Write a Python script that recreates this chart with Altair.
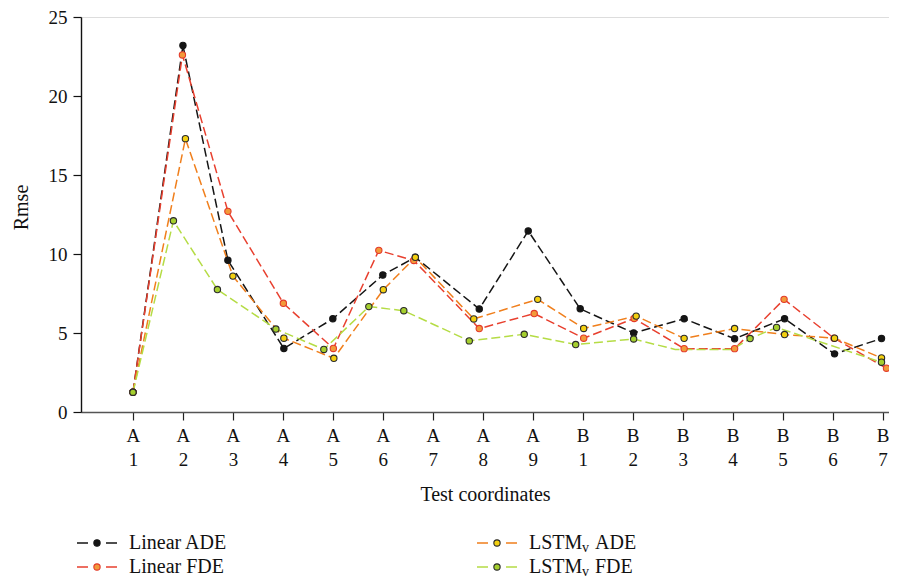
import altair as alt
import pandas as pd

FONT = "Liberation Serif"

series = ["Linear ADE", "Linear FDE", "LSTMv ADE", "LSTMv FDE"]
line_colors = ["#151515", "#e8402f", "#f07f1c", "#b5dc45"]
marker_fill = ["#151515", "#f29a3a", "#f3d010", "#a5cf2e"]
marker_stroke = ["#151515", "#e33a2a", "#2a2a2a", "#2a2a2a"]

tick_labels = ["A|1", "A|2", "A|3", "A|4", "A|5", "A|6", "A|7", "A|8", "A|9",
               "B|1", "B|2", "B|3", "B|4", "B|5", "B|6", "B|7"]

lin_ade_x = [1, 2.0, 2.9, 4.02, 5.0, 6.0, 6.65, 7.93, 8.91, 9.95, 11.02, 12.03, 13.04, 14.04, 15.04, 15.98]
lin_ade_y = [1.25, 23.2, 9.6, 4.02, 5.9, 8.67, 9.79, 6.52, 11.46, 6.53, 5.0, 5.9, 4.64, 5.9, 3.68, 4.65]

lin_fde_x = [1, 1.99, 2.9, 4.01, 5.01, 5.92, 6.62, 7.93, 9.03, 10.02, 11.03, 12.03, 13.04, 14.03, 15.03, 16.08]
lin_fde_y = [1.25, 22.6, 12.7, 6.88, 4.02, 10.23, 9.59, 5.28, 6.23, 4.67, 5.92, 4.01, 4.01, 7.13, 4.67, 2.77]

lstm_ade_x = [1, 2.05, 3.0, 4.02, 5.02, 6.01, 6.65, 7.82, 9.1, 10.02, 11.07, 12.03, 13.04, 14.04, 15.04, 15.98]
lstm_ade_y = [1.25, 17.3, 8.6, 4.67, 3.4, 7.74, 9.79, 5.89, 7.13, 5.29, 6.07, 4.66, 5.28, 4.9, 4.67, 3.42]

lstm_fde_x = [1, 1.81, 2.69, 3.86, 4.82, 5.72, 6.42, 7.73, 8.83, 9.86, 11.02, 11.85, 13.0, 13.35, 13.88, 15.98]
lstm_fde_y = [1.25, 12.1, 7.75, 5.25, 3.96, 6.67, 6.41, 4.5, 4.92, 4.27, 4.62, 3.96, 3.96, 4.65, 5.35, 3.15]
lstm_fde_marker = [1, 1, 1, 1, 1, 1, 1, 1, 1, 1, 1, 0, 0, 1, 1, 1]

rows = []
for name, xs, ys, ms in [
    (series[0], lin_ade_x, lin_ade_y, [1] * len(lin_ade_x)),
    (series[1], lin_fde_x, lin_fde_y, [1] * len(lin_fde_x)),
    (series[2], lstm_ade_x, lstm_ade_y, [1] * len(lstm_ade_x)),
    (series[3], lstm_fde_x, lstm_fde_y, lstm_fde_marker),
]:
    for i, (xv, yv, mv) in enumerate(zip(xs, ys, ms)):
        rows.append({"series": name, "x": xv, "y": yv, "m": mv, "k": i})
df = pd.DataFrame(rows)

js_arr = "[" + ",".join("'" + t + "'" for t in tick_labels) + "]"
label_expr = "split(" + js_arr + "[datum.value - 1], '|')"

x_enc = alt.X(
    "x:Q",
    scale=alt.Scale(domain=[-0.04, 16.13], nice=False, zero=False),
    axis=alt.Axis(
        values=list(range(1, 17)), labelExpr=label_expr, title="Test coordinates",
        grid=False, domainColor="#555555", domainWidth=1.6, tickColor="#222222",
        tickSize=8, tickWidth=1.2, labelFont=FONT, labelFontSize=19, labelColor="#111",
        labelLineHeight=24, labelPadding=6, labelFlush=False, labelOverlap=False,
        titleFont=FONT, titleFontSize=20, titleFontWeight="normal", titleColor="#111",
        titleY=88, titleBaseline="alphabetic",
    ),
)
y_enc = alt.Y(
    "y:Q",
    scale=alt.Scale(domain=[0, 25], nice=False),
    axis=alt.Axis(
        values=[0, 5, 10, 15, 20, 25], title="Rmse", grid=False,
        domainColor="#111111", domainWidth=1.4, tickColor="#111111", tickSize=8,
        tickWidth=1.2, labelFont=FONT, labelFontSize=19, labelColor="#111",
        labelPadding=6, titleFont=FONT, titleFontSize=20, titleFontWeight="normal",
        titleColor="#111", titleX=-60, titleY=190, titleBaseline="middle",
    ),
)

base = alt.Chart(df)
lines = base.mark_line(strokeDash=[9, 4], strokeWidth=1.5).encode(
    x=x_enc, y=y_enc,
    color=alt.Color("series:N", scale=alt.Scale(domain=series, range=line_colors), legend=None),
    order="k:Q",
)
points = base.transform_filter("datum.m == 1").mark_point(
    shape="circle", size=40, strokeWidth=1.1, opacity=1, fillOpacity=1, filled=False
).encode(
    x="x:Q", y="y:Q",
    fill=alt.Fill("series:N", scale=alt.Scale(domain=series, range=marker_fill), legend=None),
    stroke=alt.Stroke("series:N", scale=alt.Scale(domain=series, range=marker_stroke), legend=None),
)

one = pd.DataFrame({"a": [0]})
legend_layers = []
leg_parts = [("Linear ADE", "", ""), ("Linear FDE", "", ""), ("LSTM", "v", " ADE"), ("LSTM", "v", " FDE")]
for i, name in enumerate(series):
    col, row = i // 2, i % 2
    x0 = -4 + col * 400
    yy = 526 + row * 24
    lc = alt.Chart(one)
    legend_layers.append(lc.mark_rule(strokeDash=[11, 18], strokeWidth=1.5, color=line_colors[i]).encode(
        x=alt.value(x0), x2=alt.value(x0 + 40), y=alt.value(yy)))
    legend_layers.append(lc.mark_point(shape="circle", size=40, strokeWidth=1.1, opacity=1, fillOpacity=1,
                                       fill=marker_fill[i], stroke=marker_stroke[i]).encode(
        x=alt.value(x0 + 20), y=alt.value(yy)))
    main, sub, rest = leg_parts[i]
    legend_layers.append(lc.mark_text(text=main, font=FONT, fontSize=20, align="left", baseline="middle",
                                      color="#111").encode(x=alt.value(x0 + 52), y=alt.value(yy)))
    if sub:
        legend_layers.append(lc.mark_text(text=sub, font=FONT, fontSize=14, align="left", baseline="middle",
                                          color="#111").encode(x=alt.value(x0 + 52 + 53), y=alt.value(yy + 5)))
        legend_layers.append(lc.mark_text(text=rest.strip(), font=FONT, fontSize=20, align="left",
                                          baseline="middle", color="#111").encode(
            x=alt.value(x0 + 52 + 66), y=alt.value(yy)))

chart = alt.layer(lines, points, *legend_layers).properties(
    width=808, height=395,
    autosize=alt.AutoSizeParams(type="none"),
    padding={"left": 73, "top": 9, "right": 0, "bottom": 166},
).configure_view(stroke=None).configure(font=FONT)

chart.save("out.html", embed_options={"renderer": "svg", "actions": False})
